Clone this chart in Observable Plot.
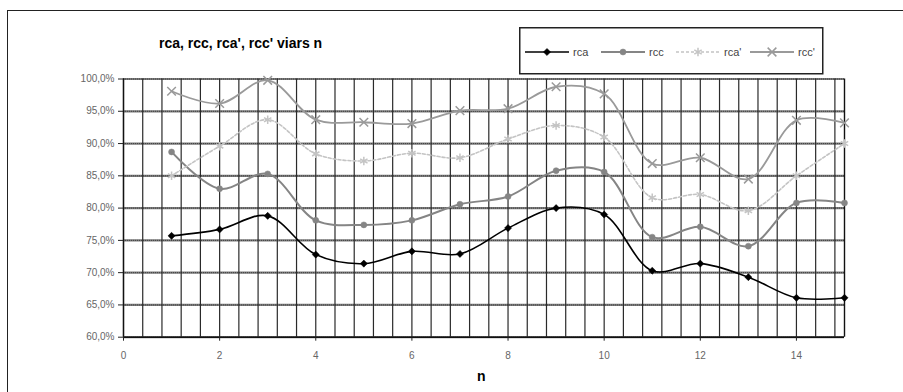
<!DOCTYPE html>
<html>
<head>
<meta charset="utf-8">
<script src="https://cdn.jsdelivr.net/npm/d3@7"></script>
<script src="https://cdn.jsdelivr.net/npm/@observablehq/plot@0.6"></script>
<style>
  html, body { margin: 0; padding: 0; background: #fff; }
  #wrap { position: relative; width: 903px; height: 392px; overflow: hidden; font-family: "Liberation Sans", Arial, sans-serif; }
  #frame { position: absolute; left: 7px; top: 10px; width: 1000px; height: 1000px; border: 1.5px solid #222; box-sizing: border-box; }
  #title { position: absolute; left: 159px; top: 35px; font-weight: bold; font-size: 14px; color: #000; white-space: nowrap; }
  #xlabel { position: absolute; left: 477px; top: 368px; font-weight: bold; font-size: 14px; color: #000; }
  #legend { position: absolute; left: 519px; top: 27px; }
  #chart { position: absolute; left: 0; top: 0; }
</style>
</head>
<body>
<div id="wrap">
  <div id="frame"></div>
  <div id="chart"></div>
  <div id="title">rca, rcc, rca', rcc' viars n</div>
  <div id="xlabel">n</div>
  <div id="legend"></div>
</div>
<script>
const n = [1, 2, 3, 4, 5, 6, 7, 8, 9, 10, 11, 12, 13, 14, 15];
const rca  = [75.7, 76.7, 78.8, 72.8, 71.4, 73.3, 72.9, 76.9, 80.0, 79.0, 70.3, 71.4, 69.3, 66.1, 66.1];
const rcc  = [88.7, 83.0, 85.3, 78.1, 77.4, 78.1, 80.6, 81.8, 85.8, 85.6, 75.5, 77.1, 74.1, 80.8, 80.8];
const rcaP = [85.0, 89.6, 93.7, 88.4, 87.3, 88.5, 87.8, 90.7, 92.8, 91.0, 81.6, 82.1, 79.6, 85.0, 90.0];
const rccP = [98.1, 96.2, 99.8, 93.7, 93.3, 93.1, 95.1, 95.4, 98.8, 97.7, 86.9, 87.8, 84.5, 93.6, 93.2];
const seriesNames = ["rca", "rcc", "rca'", "rcc'"];
const yTicks = [60, 65, 70, 75, 80, 85, 90, 95, 100];
const xTicks = [0, 2, 4, 6, 8, 10, 12, 14];
const xGrid = d3.range(0, 75).map(i => +(i * 0.4).toFixed(1)).filter(v => v <= 15);

const styles = {
  "rca":  {stroke: "#000000", width: 1.6, dash: null, symbol: "diamond2", r: 3.2, fill: "#000"},
  "rcc":  {stroke: "#858585", width: 2, dash: null, symbol: "circle", r: 3, fill: "#858585"},
  "rca'": {stroke: "#c4c4c4", width: 1.6, dash: "3,2", symbol: "asterisk", r: 4, fill: "none"},
  "rcc'": {stroke: "#9a9a9a", width: 1.8, dash: null, symbol: "times", r: 4, fill: "none"}
};
const valuesBy = {"rca": rca, "rcc": rcc, "rca'": rcaP, "rcc'": rccP};
const data = seriesNames.flatMap(s => n.map((x, i) => ({series: s, n: x, v: valuesBy[s][i]})));

const marks = [
  Plot.ruleY(yTicks, {stroke: "#7a7a7a", strokeWidth: 2.2}),
  Plot.ruleY(yTicks, {stroke: "#333", strokeWidth: 0.8, strokeDasharray: "1,1"}),
  Plot.ruleX(xGrid, {stroke: "#2a2a2a", strokeWidth: 1.2}),
  Plot.ruleX([0, 15], {stroke: "#111", strokeWidth: 1.4}),
  Plot.ruleY([60], {stroke: "#111", strokeWidth: 1.6}),
  Plot.axisY(yTicks, {tickSize: 5, tickPadding: 4, fontSize: 10, fill: "#666", stroke: "#222",
    tickFormat: d => d.toFixed(1).replace(".", ",") + "%", label: null}),
  Plot.axisX(xTicks, {tickSize: 4, tickPadding: 11, fontSize: 10, fill: "#666", stroke: "#222", label: null}),
];
for (const s of seriesNames) {
  const st = styles[s];
  const d = data.filter(r => r.series === s);
  marks.push(Plot.line(d, {x: "n", y: "v", stroke: st.stroke, strokeWidth: st.width, strokeDasharray: st.dash, curve: "catmull-rom"}));
  marks.push(Plot.dot(d, {x: "n", y: "v", symbol: () => st.symbol, r: st.r,
    fill: st.fill === "none" ? "none" : st.fill, stroke: st.stroke, strokeWidth: st.fill === "none" ? 1.5 : 0.5}));
}

const chart = Plot.plot({
  width: 903, height: 392,
  marginLeft: 123, marginRight: 59, marginTop: 78.5, marginBottom: 55.3,
  style: {background: "transparent", fontFamily: "Liberation Sans, Arial, sans-serif"},
  x: {domain: [0, 15]},
  y: {domain: [60, 100]},
  marks
});
document.getElementById("chart").appendChild(chart);

// legend
const L = d3.select("#legend").append("svg").attr("width", 305).attr("height", 48);
L.append("rect").attr("x", 0.75).attr("y", 0.75).attr("width", 303).attr("height", 46)
  .attr("fill", "#fff").attr("stroke", "#222").attr("stroke-width", 1.5);
const itemX = [6, 82, 157, 231];
seriesNames.forEach((s, i) => {
  const st = styles[s];
  const g = L.append("g").attr("transform", `translate(${itemX[i]},25)`);
  g.append("line").attr("x1", 0).attr("x2", 44).attr("y1", 0).attr("y2", 0)
    .attr("stroke", st.stroke).attr("stroke-width", st.width).attr("stroke-dasharray", st.dash);
  const sym = d3.symbol().type({
    "diamond2": d3.symbolDiamond2, "circle": d3.symbolCircle, "asterisk": d3.symbolAsterisk, "times": d3.symbolTimes
  }[st.symbol]).size(st.r * st.r * 3.2);
  g.append("path").attr("d", sym()).attr("transform", "translate(22,0)")
    .attr("fill", st.fill === "none" ? "none" : st.fill).attr("stroke", st.stroke).attr("stroke-width", st.fill === "none" ? 1.5 : 0.5);
  g.append("text").attr("x", 48).attr("y", 0).attr("dy", "0.35em").attr("font-size", 11)
    .attr("fill", "#444").attr("font-family", "Liberation Sans, Arial, sans-serif").text(s);
});
</script>
</body>
</html>
